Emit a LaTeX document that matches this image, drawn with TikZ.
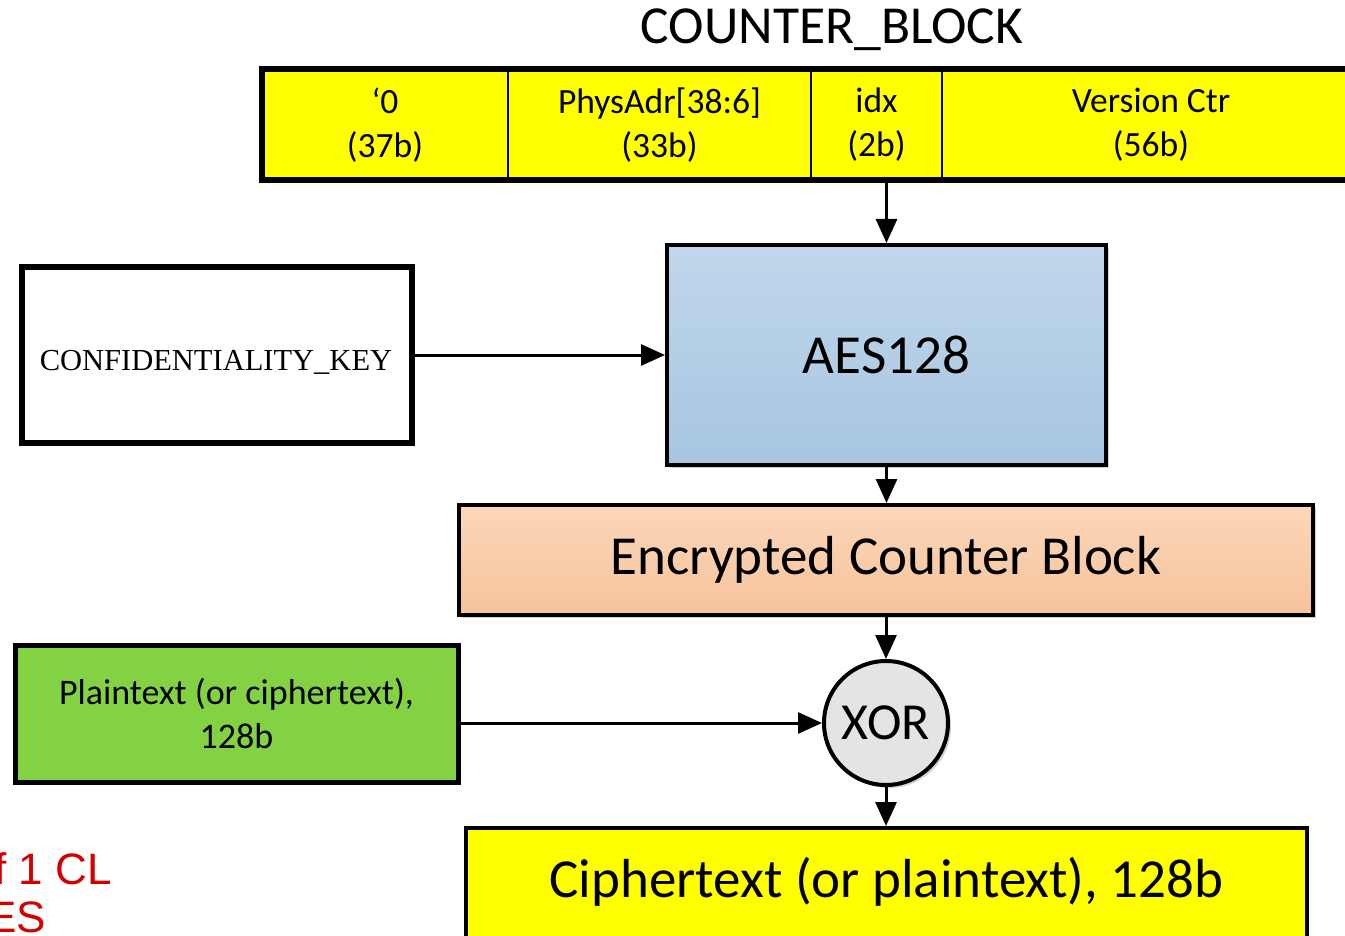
\documentclass[tikz,border=0pt]{standalone}
\usepackage{fontspec}
\setmainfont{Carlito}
\newfontfamily\keyfont{Liberation Serif}
\newfontfamily\notefont{Liberation Sans}
\usetikzlibrary{arrows.meta,shadows}

\definecolor{fieldyellow}{HTML}{FFFF00}
\definecolor{aestop}{HTML}{C0D7EB}
\definecolor{aesbottom}{HTML}{A7C5E0}
\definecolor{enctop}{HTML}{FBD7BA}
\definecolor{encbottom}{HTML}{F6C39B}
\definecolor{xorgray}{HTML}{E4E4E4}
\definecolor{plaingreen}{HTML}{83D244}
\definecolor{notered}{HTML}{D40000}

\tikzset{
  field/.style={draw, line width=2pt, fill=fieldyellow, inner sep=0pt,
    minimum height=111pt, align=center, font=\fontsize{35.5}{44}\selectfont},
  blockbox/.style={draw, line width=4pt, inner sep=0pt, align=center},
  softshadow/.style={drop shadow={shadow xshift=3pt, shadow yshift=-3pt,
    fill=black, opacity=0.18}},
  flow/.style={line width=3pt, -{Triangle[length=24pt, width=21pt]}},
  bigtext/.style={font=\fontsize{55}{62}\selectfont},
}

\begin{document}
\begin{tikzpicture}[x=1pt, y=-1pt]
\useasboundingbox (0,0) rectangle (1345,936);
\clip (0,0) rectangle (1345,936);

% counter block title and fields
\node[font=\fontsize{53.5}{60}\selectfont] (title) at (832,30) {COUNTER\_BLOCK};
\node[field, minimum width=246pt] (f0) at (385,125)   {`0\\(37b)};
\node[field, minimum width=303pt] (f1) at (659.5,125) {PhysAdr[38:6]\\(33b)};
\node[field, minimum width=131pt] (f2) at (876.5,125) {idx\\(2b)};
\node[field, minimum width=418pt] (f3) at (1151,125)  {Version Ctr\\(56b)};
\node[draw, line width=6pt, inner sep=0pt, minimum width=1098pt,
      minimum height=111pt] (cb) at (811,125) {};

% key input
\node[blockbox, line width=6pt, fill=white, minimum width=390pt,
      minimum height=176pt] (key) at (217,355) {};
\node[font=\keyfont\fontsize{30.5}{36}\selectfont] (keytext) at (216,362)
      {CONFIDENTIALITY\_KEY};

% block cipher
\node[blockbox, softshadow, top color=aestop, bottom color=aesbottom,
      minimum width=439pt, minimum height=220pt, bigtext] (aes) at (886.5,355) {AES128};

% encrypted counter
\node[blockbox, softshadow, top color=enctop, bottom color=encbottom,
      minimum width=854pt, minimum height=110pt, bigtext]
      (enc) at (886,560) {Encrypted Counter Block};

% xor stage
\node[blockbox, softshadow, circle, fill=xorgray, minimum size=124pt,
      font=\fontsize{52}{60}\selectfont] (xor) at (886,723) {XOR};

\node[blockbox, line width=5pt, fill=plaingreen, minimum width=443pt,
      minimum height=137pt, font=\fontsize{36}{44}\selectfont]
      (plain) at (236.5,713.5) {Plaintext (or ciphertext),\\128b};

% output
\node[blockbox, fill=fieldyellow, minimum width=841pt, minimum height=132pt]
      (ct) at (886.5,894) {};
\node[bigtext] (cttext) at (886.5,882) {Ciphertext (or plaintext), 128b};

% side note
\node[text=notered, anchor=base east, inner sep=0pt,
      font=\notefont\fontsize{44}{50}\selectfont] (note1) at (112,884) {f 1 CL};
\node[text=notered, anchor=base east, inner sep=0pt,
      font=\notefont\fontsize{44}{50}\selectfont] (note2) at (46,932) {ES};

% data flow
\draw[flow] (aes.north |- cb.south) -- (aes.north);
\draw[flow] (key.east) -- (aes.west);
\draw[flow] (aes.south) -- (enc.north -| aes.south);
\draw[flow] (enc.south -| xor.north) -- (xor.north);
\draw[flow] (plain.east |- xor.west) -- (xor.west);
\draw[flow] (xor.south) -- (ct.north -| xor.south);
\end{tikzpicture}
\end{document}
